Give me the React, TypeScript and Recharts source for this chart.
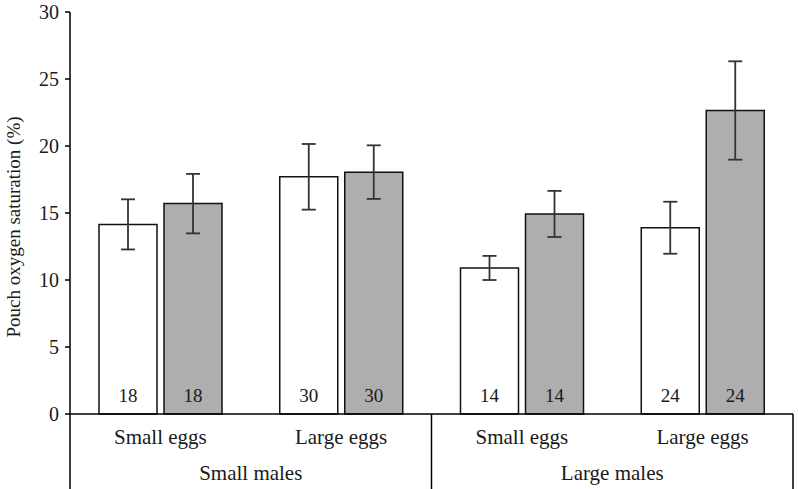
import React from 'react';
import { BarChart, Bar, XAxis, YAxis, ErrorBar, LabelList } from 'recharts';

const eggSizes = ['Small eggs', 'Large eggs', 'Small eggs', 'Large eggs'];
const maleSizes = ['Small males', 'Small males', 'Large males', 'Large males'];
const openMeans = [14.15, 17.7, 10.9, 13.9];
const openErrors = [1.87, 2.45, 0.9, 1.94];
const filledMeans = [15.7, 18.05, 14.93, 22.65];
const filledErrors = [2.22, 2.0, 1.72, 3.67];
const sampleSizes = [18, 30, 14, 24];
const yTicks = [0, 5, 10, 15, 20, 25, 30];

const data = eggSizes.map((egg, i) => ({
  egg,
  male: maleSizes[i],
  open: openMeans[i],
  openErr: openErrors[i],
  filled: filledMeans[i],
  filledErr: filledErrors[i],
  n: sampleSizes[i],
}));

const FONT = '"Liberation Serif", "DejaVu Serif", serif';
const INK = '#1a1a1a';

const EggTick = ({ x, y, payload }: any) => (
  <text x={x} y={y + 22} textAnchor="middle" fontFamily={FONT} fontSize={21} fill={INK}>
    {payload.value}
  </text>
);

// group labels + the vertical separators of the category box
const GroupTick = ({ x, y, payload, index }: any) => {
  const half = payload.offset ?? 180.75;
  const top = y - 46;
  return (
    <g>
      <text x={x} y={y + 20} textAnchor="middle" fontFamily={FONT} fontSize={21} fill={INK}>
        {payload.value}
      </text>
      {index === 0 && <line x1={x - half} x2={x - half} y1={top} y2={top + 75} stroke="#000" strokeWidth={1.5} />}
      <line x1={x + half} x2={x + half} y1={top} y2={top + 75} stroke="#000" strokeWidth={1.5} />
    </g>
  );
};

const YTitle = ({ viewBox }: any) => {
  const cx = (viewBox?.x ?? 0) + 20;
  const cy = (viewBox?.y ?? 12) + (viewBox?.height ?? 402) / 2 + 14;
  return (
    <text x={cx} y={cy} transform={`rotate(-90, ${cx}, ${cy})`} textAnchor="middle" fontFamily={FONT} fontSize={19} fill={INK}>
      Pouch oxygen saturation (%)
    </text>
  );
};

const CountLabel = ({ x, y, width, height, value }: any) => (
  <text x={x + width / 2} y={y + height - 12} textAnchor="middle" fontFamily={FONT} fontSize={19} fill={INK}>
    {value}
  </text>
);

export default function App() {
  return (
    <div style={{ width: 798, height: 489, background: '#fff' }}>
      <style>{'body{margin:0}'}</style>
      <BarChart width={798} height={489} data={data} margin={{ top: 12, right: 5, bottom: 0, left: 0 }} barSize={58} barGap={7}>
        <XAxis xAxisId="egg" dataKey="egg" height={38} tickLine={false} axisLine={{ stroke: '#000', strokeWidth: 1.5 }} tick={<EggTick />} interval={0} />
        <XAxis xAxisId="grp" dataKey="male" allowDuplicatedCategory={false} height={37} tickLine={false} axisLine={false} tick={<GroupTick />} interval={0} />
        <YAxis
          width={70}
          domain={[0, 30]}
          ticks={yTicks}
          tickSize={5}
          tickMargin={6}
          axisLine={{ stroke: '#000', strokeWidth: 1.5 }}
          tickLine={{ stroke: '#000', strokeWidth: 1.5 }}
          tick={{ fontFamily: FONT, fontSize: 20, fill: INK }}
          label={<YTitle />}
        />
        <Bar xAxisId="egg" dataKey="open" fill="#fff" stroke="#111" strokeWidth={1.5} isAnimationActive={false}>
          <ErrorBar dataKey="openErr" width={7} stroke="#333" strokeWidth={1.8} direction="y" />
          <LabelList dataKey="n" content={<CountLabel />} />
        </Bar>
        <Bar xAxisId="egg" dataKey="filled" fill="#aeaeae" stroke="#111" strokeWidth={1.5} isAnimationActive={false}>
          <ErrorBar dataKey="filledErr" width={7} stroke="#333" strokeWidth={1.8} direction="y" />
          <LabelList dataKey="n" content={<CountLabel />} />
        </Bar>
      </BarChart>
    </div>
  );
}
